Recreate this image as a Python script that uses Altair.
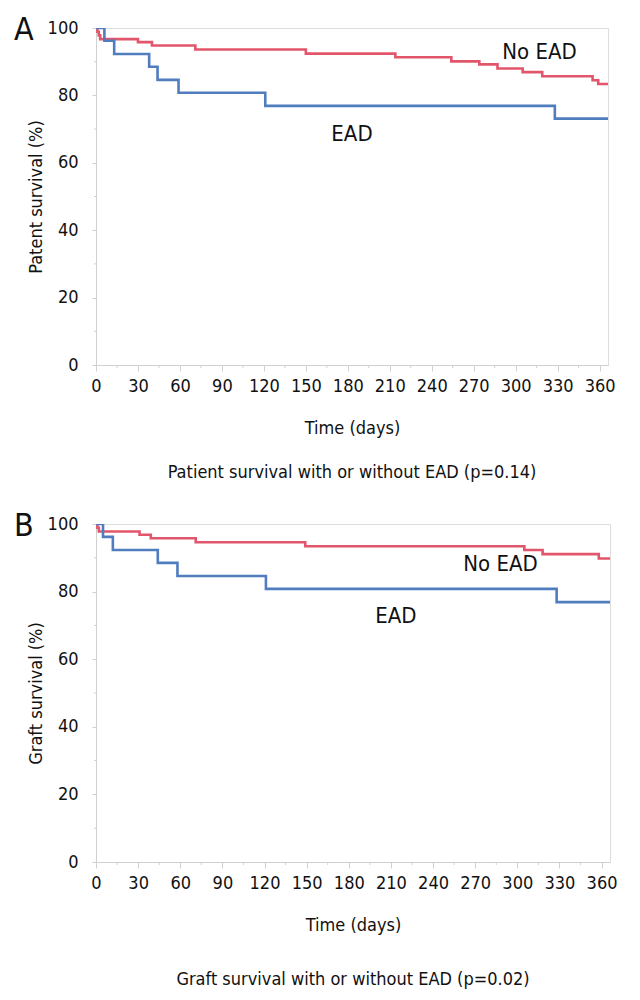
import altair as alt
import pandas as pd

# ---------------- data ----------------
A_noead_days = [0, 1, 2, 3, 30, 40, 71, 150, 214, 254, 274, 287, 305, 319, 355, 359, 366]
A_noead_surv = [100, 98.9, 97.8, 96.7, 95.8, 94.8, 93.6, 92.4, 91.3, 90.1, 89.2, 88.0, 86.9, 85.7, 84.5, 83.4, 83.4]
A_ead_days = [0, 6, 13, 38, 44, 59, 121, 328, 366]
A_ead_surv = [100, 96.2, 92.3, 88.5, 84.6, 80.8, 76.9, 73.1, 73.1]

B_noead_days = [0, 1, 2, 31, 39, 71, 149, 305, 318, 358, 366]
B_noead_surv = [100, 98.9, 97.8, 96.8, 95.8, 94.6, 93.4, 92.3, 91.1, 89.8, 89.8]
B_ead_days = [0, 5, 12, 44, 58, 121, 328, 366]
B_ead_surv = [100, 96.2, 92.3, 88.5, 84.6, 80.8, 76.9, 76.9]

groups = ["No EAD", "EAD"]
colors = ["#E2566B", "#4F7DBE"]

x_ticks = [0, 30, 60, 90, 120, 150, 180, 210, 240, 270, 300, 330, 360]
x_minor = [15, 45, 75, 105, 135, 165, 195, 225, 255, 285, 315, 345]
y_ticks = [0, 20, 40, 60, 80, 100]
y_minor = [10, 30, 50, 70, 90]

A_label_pos = {"No EAD": (317, 92.8), "EAD": (183, 68.5)}
B_label_pos = {"No EAD": (288, 88.2), "EAD": (213.5, 72.9)}

panels = [
    dict(letter="A", ytitle="Patent survival (%)",
         caption="Patient survival with or without EAD (p=0.14)",
         noead=(A_noead_days, A_noead_surv), ead=(A_ead_days, A_ead_surv),
         labels=A_label_pos, w=512, h=337, cap_off=27),
    dict(letter="B", ytitle="Graft survival (%)",
         caption="Graft survival with or without EAD (p=0.02)",
         noead=(B_noead_days, B_noead_surv), ead=(B_ead_days, B_ead_surv),
         labels=B_label_pos, w=514, h=338, cap_off=37),
]

FONT = "DejaVu Sans Condensed"
AXC = "#d0d0d0"


def make_panel(p):
    rows = []
    for g, (d, s) in (("No EAD", p["noead"]), ("EAD", p["ead"])):
        for di, si in zip(d, s):
            rows.append({"day": di, "surv": si, "group": g})
    df = pd.DataFrame(rows)

    xs = alt.Scale(domain=[0, 366], nice=False, zero=False)
    ys = alt.Scale(domain=[0, 100], nice=False)

    xaxis = alt.Axis(values=x_ticks, title="Time (days)", tickSize=6, labelPadding=6,
                     titlePadding=24, labelFontSize=18, titleFontSize=18,
                     titleFontWeight="normal", labelFont=FONT, titleFont=FONT,
                     domainColor=AXC, tickColor=AXC, labelColor="#111", titleColor="#111",
                     grid=False, labelFlush=False)
    yaxis = alt.Axis(values=y_ticks, title=p["ytitle"], tickSize=4, labelPadding=14,
                     titlePadding=2, labelFontSize=18, titleFontSize=18,
                     titleFontWeight="normal", labelFont=FONT, titleFont=FONT,
                     domainColor=AXC, tickColor=AXC, labelColor="#111", titleColor="#111",
                     grid=False, labelFlush=False)

    lines = alt.Chart(df).mark_line(interpolate="step-after", strokeWidth=2.6, clip=True).encode(
        x=alt.X("day:Q", scale=xs, axis=xaxis),
        y=alt.Y("surv:Q", scale=ys, axis=yaxis),
        color=alt.Color("group:N", scale=alt.Scale(domain=groups, range=colors), legend=None),
        detail="group:N",
    )

    xm = alt.Chart(pd.DataFrame({"v": x_minor})).mark_rule(color=AXC, strokeWidth=1).encode(
        x=alt.X("v:Q", scale=xs), y=alt.value(p["h"]), y2=alt.value(p["h"] + 3))
    ym = alt.Chart(pd.DataFrame({"v": y_minor})).mark_rule(color=AXC, strokeWidth=1).encode(
        y=alt.Y("v:Q", scale=ys), x=alt.value(0), x2=alt.value(-2))

    ldf = pd.DataFrame([{"label": k, "day": v[0], "surv": v[1]} for k, v in p["labels"].items()])
    labels = alt.Chart(ldf).mark_text(font=FONT, fontSize=22, color="#111", align="center",
                                      baseline="middle").encode(
        x=alt.X("day:Q", scale=xs), y=alt.Y("surv:Q", scale=ys), text="label:N")

    letter = alt.Chart(pd.DataFrame({"t": [p["letter"]]})).mark_text(
        font=FONT, fontSize=32, color="#111", align="left", baseline="middle").encode(
        x=alt.value(-82), y=alt.value(2), text="t:N")

    return alt.layer(lines, xm, ym, labels, letter).properties(
        width=p["w"], height=p["h"],
        title=alt.TitleParams(p["caption"], orient="bottom", anchor="middle", offset=p["cap_off"],
                              font=FONT, fontSize=18, fontWeight="normal", color="#111"),
    )


chart = alt.vconcat(*[make_panel(p) for p in panels], spacing=26).configure_view(
    stroke="#dcdcdc", strokeWidth=1
).configure(padding=5)

chart.save("out.html", embed_options={"renderer": "svg", "actions": False})
